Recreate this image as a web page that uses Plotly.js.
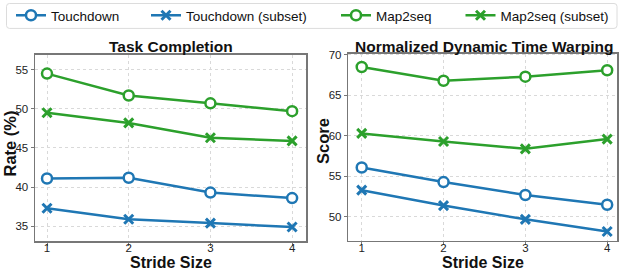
<!DOCTYPE html>
<html>
<head>
<meta charset="utf-8">
<script src="https://cdn.plot.ly/plotly-3.0.1.min.js"></script>
<style>html,body{margin:0;padding:0;background:#fff}#chart{width:622px;height:274px}</style>
</head>
<body>
<div id="chart"></div>
<script>
const strides = [1, 2, 3, 4];
const tcTouchdown = [41.1, 41.2, 39.3, 38.6];
const tcTouchdownSubset = [37.3, 35.9, 35.4, 34.9];
const tcMap2seq = [54.5, 51.7, 50.7, 49.7];
const tcMap2seqSubset = [49.5, 48.2, 46.3, 45.9];
const ndtwTouchdown = [56.1, 54.3, 52.7, 51.5];
const ndtwTouchdownSubset = [53.3, 51.4, 49.7, 48.2];
const ndtwMap2seq = [68.5, 66.8, 67.3, 68.1];
const ndtwMap2seqSubset = [60.3, 59.3, 58.4, 59.6];
const seriesNames = ['Touchdown', 'Touchdown (subset)', 'Map2seq', 'Map2seq (subset)'];
const tcTicks = [35, 40, 45, 50, 55];
const ndtwTicks = [50, 55, 60, 65, 70];

const BLUE = '#1f77b4', GREEN = '#2ca02c';
const FONT = 'Liberation Sans';
const W = 622, H = 274;
const px = v => v / W, py = v => 1 - v / H;

function circ(color) {
  return {symbol: 'circle', size: 10, color: 'white', line: {color: color, width: 2.5}};
}
function cross(color) {
  return {symbol: 'x-thin-open', size: 9, color: color, line: {color: color, width: 3}};
}
function tr(y, name, color, marker, xa, ya, leg) {
  return {x: strides, y: y, name: name, type: 'scatter', mode: 'lines+markers',
    line: {color: color, width: 2.5}, marker: marker, xaxis: xa, yaxis: ya,
    showlegend: !!leg, legend: leg || 'legend', legendgroup: name};
}
const data = [
  tr(tcTouchdown, seriesNames[0], BLUE, circ(BLUE), 'x', 'y', 'legend'),
  tr(tcTouchdownSubset, seriesNames[1], BLUE, cross(BLUE), 'x', 'y', 'legend2'),
  tr(tcMap2seq, seriesNames[2], GREEN, circ(GREEN), 'x', 'y', 'legend3'),
  tr(tcMap2seqSubset, seriesNames[3], GREEN, cross(GREEN), 'x', 'y', 'legend4'),
  tr(ndtwTouchdown, seriesNames[0], BLUE, circ(BLUE), 'x2', 'y2', null),
  tr(ndtwTouchdownSubset, seriesNames[1], BLUE, cross(BLUE), 'x2', 'y2', null),
  tr(ndtwMap2seq, seriesNames[2], GREEN, circ(GREEN), 'x2', 'y2', null),
  tr(ndtwMap2seqSubset, seriesNames[3], GREEN, cross(GREEN), 'x2', 'y2', null)
];

const axCommon = {
  showline: true, mirror: true, linecolor: '#777', linewidth: 1.5,
  showgrid: true, gridcolor: '#d9d9d9', griddash: 'dot', gridwidth: 1,
  ticks: 'outside', ticklen: 3, tickcolor: '#777', tickwidth: 1,
  tickfont: {family: FONT, size: 11.5, color: '#222'}, zeroline: false,
  automargin: false
};
const xExtra = {ticklabelstandoff: -7};

function leg(x) {
  return {orientation: 'h', x: px(x), y: py(15), xanchor: 'left', yanchor: 'middle',
    bgcolor: 'rgba(0,0,0,0)', borderwidth: 0, font: {family: FONT, size: 13.5, color: '#111'}, itemwidth: 30};
}
function ann(text, x, y, size, angle) {
  return {text: text, xref: 'paper', yref: 'paper', x: px(x), y: py(y), xanchor: 'center', yanchor: 'middle',
    showarrow: false, textangle: angle || 0, font: {family: FONT, size: size, color: '#111', weight: 'bold'}};
}
// rounded legend frame
const r = 3, L = 6.5, R = 617, T = 2.5, B = 27.5;
const framePath = 'M' + px(L + r) + ',' + py(T) + ' L' + px(R - r) + ',' + py(T) +
  ' Q' + px(R) + ',' + py(T) + ' ' + px(R) + ',' + py(T + r) +
  ' L' + px(R) + ',' + py(B - r) + ' Q' + px(R) + ',' + py(B) + ' ' + px(R - r) + ',' + py(B) +
  ' L' + px(L + r) + ',' + py(B) + ' Q' + px(L) + ',' + py(B) + ' ' + px(L) + ',' + py(B - r) +
  ' L' + px(L) + ',' + py(T + r) + ' Q' + px(L) + ',' + py(T) + ' ' + px(L + r) + ',' + py(T) + ' Z';

const layout = {
  width: W, height: H,
  margin: {l: 0, r: 0, t: 0, b: 0},
  paper_bgcolor: 'white', plot_bgcolor: 'white',
  font: {family: FONT},
  xaxis: Object.assign({}, axCommon, xExtra, {domain: [px(35), px(306)], range: [0.853, 4.17], tickvals: strides, anchor: 'y'}),
  yaxis: Object.assign({}, axCommon, {domain: [py(241), py(54)], range: [33.1, 56.9], tickvals: tcTicks, anchor: 'x'}),
  xaxis2: Object.assign({}, axCommon, xExtra, {domain: [px(348.3), px(617)], range: [0.836, 4.12], tickvals: strides, anchor: 'y2'}),
  yaxis2: Object.assign({}, axCommon, {domain: [py(240.7), py(52.7)], range: [47.05, 70.16], tickvals: ndtwTicks, anchor: 'x2'}),
  legend: leg(11), legend2: leg(146), legend3: leg(336), legend4: leg(460.5),
  shapes: [{type: 'path', xref: 'paper', yref: 'paper', path: framePath, line: {color: '#dcdcdc', width: 1}, fillcolor: 'rgba(0,0,0,0)'}],
  annotations: [
    ann('Task Completion', 170.5, 45.5, 15.5),
    ann('Normalized Dynamic Time Warping', 484, 45.5, 15.5),
    ann('Stride Size', 170.5, 262, 16),
    ann('Stride Size', 483, 262, 16),
    ann('Rate (%)', 10, 143, 16.5, -90),
    ann('Score', 323.5, 141, 16.5, -90)
  ]
};
Plotly.newPlot('chart', data, layout, {displayModeBar: false, staticPlot: true});
</script>
</body>
</html>
